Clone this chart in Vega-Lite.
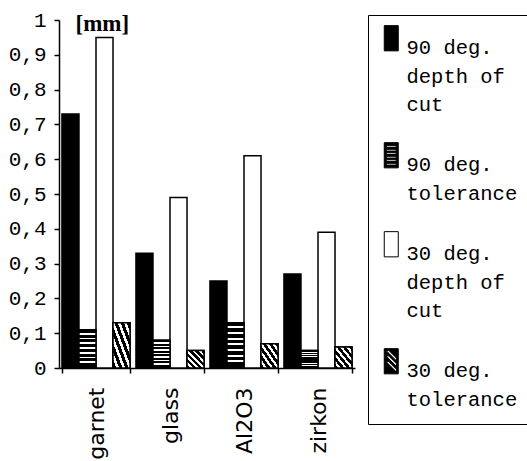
{
  "$schema": "https://vega.github.io/schema/vega-lite/v6.json",
  "autosize": "none",
  "width": 296,
  "height": 348,
  "padding": {"left": 59, "top": 20, "right": 172, "bottom": 93},
  "background": "white",
  "config": {
    "view": {"stroke": null},
    "style": {"guide-label": {"lineHeight": 28.5}}
  },
  "data": {"values": [
    {"material": "garnet", "series": "90 deg.|depth of|cut", "value": 0.73},
    {"material": "garnet", "series": "90 deg.|tolerance", "value": 0.11},
    {"material": "garnet", "series": "30 deg.|depth of|cut", "value": 0.95},
    {"material": "garnet", "series": "30 deg.|tolerance", "value": 0.13},
    {"material": "glass", "series": "90 deg.|depth of|cut", "value": 0.33},
    {"material": "glass", "series": "90 deg.|tolerance", "value": 0.08},
    {"material": "glass", "series": "30 deg.|depth of|cut", "value": 0.49},
    {"material": "glass", "series": "30 deg.|tolerance", "value": 0.05},
    {"material": "Al2O3", "series": "90 deg.|depth of|cut", "value": 0.25},
    {"material": "Al2O3", "series": "90 deg.|tolerance", "value": 0.13},
    {"material": "Al2O3", "series": "30 deg.|depth of|cut", "value": 0.61},
    {"material": "Al2O3", "series": "30 deg.|tolerance", "value": 0.07},
    {"material": "zirkon", "series": "90 deg.|depth of|cut", "value": 0.27},
    {"material": "zirkon", "series": "90 deg.|tolerance", "value": 0.05},
    {"material": "zirkon", "series": "30 deg.|depth of|cut", "value": 0.39},
    {"material": "zirkon", "series": "30 deg.|tolerance", "value": 0.06}
  ]},
  "encoding": {
    "x": {
      "field": "material", "type": "nominal",
      "sort": ["garnet", "glass", "Al2O3", "zirkon"],
      "scale": {"domain": ["garnet", "glass", "Al2O3", "zirkon"], "paddingInner": 0.08, "paddingOuter": 0.04},
      "axis": {
        "title": null, "labelAngle": -90, "labelAlign": "right", "labelBaseline": "middle",
        "labelFont": "DejaVu Sans", "labelFontSize": 22, "labelColor": "black",
        "labelPadding": 14, "tickBand": "extent", "tickSize": 5, "tickColor": "black",
        "domainColor": "black", "domainWidth": 1.5, "tickWidth": 1.5
      }
    },
    "xOffset": {
      "field": "series", "type": "nominal",
      "scale": {"domain": ["90 deg.|depth of|cut", "90 deg.|tolerance", "30 deg.|depth of|cut", "30 deg.|tolerance"], "paddingInner": 0, "paddingOuter": 0}
    },
    "y": {
      "field": "value", "type": "quantitative",
      "scale": {"domain": [0, 1], "nice": false},
      "axis": {
        "values": [0, 0.1, 0.2, 0.3, 0.4, 0.5, 0.6, 0.7, 0.8, 0.9, 1],
        "labelExpr": "replace(format(datum.value, '~g'), '.', ',')",
        "grid": false, "labelFont": "Liberation Mono", "labelFontSize": 21, "labelColor": "black",
        "labelPadding": 8, "tickSize": 5, "tickColor": "black", "tickWidth": 1.5,
        "domainColor": "black", "domainWidth": 1.5,
        "title": "[mm]", "titleAngle": 0, "titleAlign": "left", "titleBaseline": "middle",
        "titleX": 16, "titleY": 3, "titleFont": "Liberation Serif", "titleFontWeight": "bold",
        "titleFontSize": 23, "titleColor": "black"
      }
    }
  },
  "layer": [
    {
      "mark": {"type": "bar", "stroke": "black", "strokeWidth": 1.5},
      "encoding": {
        "fill": {
          "field": "series", "type": "nominal",
          "scale": {
            "domain": ["90 deg.|depth of|cut", "90 deg.|tolerance", "30 deg.|depth of|cut", "30 deg.|tolerance"],
            "range": ["black", "black", "white", "black"]
          },
          "legend": {
            "orient": "none", "legendX": 309, "legendY": -5, "title": null,
            "strokeColor": "black", "padding": 13, "rowPadding": 24,
            "symbolSize": 196, "symbolOpacity": 1,
            "symbolStrokeColor": "black", "symbolStrokeWidth": 1,
            "labelExpr": "split(datum.label, '|')",
            "labelFont": "Liberation Mono", "labelFontSize": 20.5, "labelColor": "black",
            "labelOffset": 5, "labelLimit": 300, "labelBaseline": "top",
            "encode": {"labels": {"lineHeight": {"value": 28.5}}}
          }
        }
      }
    },
    {
      "mark": {"type": "point", "filled": true, "opacity": 0},
      "encoding": {
        "shape": {
          "field": "series", "type": "nominal",
          "scale": {
            "domain": ["90 deg.|depth of|cut", "90 deg.|tolerance", "30 deg.|depth of|cut", "30 deg.|tolerance"],
            "range": [
              "M-1,-1.8H1V1.8H-1Z",
              "M-1,-1.8H1V1.8H-1Z M-0.7,-1.35V-1.1H0.7V-1.35Z M-0.7,-0.85V-0.6H0.7V-0.85Z M-0.7,-0.35V-0.1H0.7V-0.35Z M-0.7,0.15V0.4H0.7V0.15Z M-0.7,0.65V0.9H0.7V0.65Z M-0.7,1.15V1.4H0.7V1.15Z",
              "M-1,-1.8H1V1.8H-1Z",
              "M-1,-1.8H1V1.8H-1Z M-0.75,-1.55L0.75,-0.05L0.75,-0.45L-0.35,-1.55Z M-0.75,-0.75L0.75,0.75L0.75,0.35L-0.35,-0.75Z M-0.75,0.05L0.75,1.55L0.75,1.15L-0.35,0.05Z"
            ]
          },
          "legend": {
            "orient": "none", "legendX": 309, "legendY": -5, "title": null,
            "strokeColor": "black", "padding": 13, "rowPadding": 24,
            "symbolSize": 196, "symbolOpacity": 1,
            "symbolStrokeColor": "black", "symbolStrokeWidth": 1,
            "labelExpr": "split(datum.label, '|')",
            "labelFont": "Liberation Mono", "labelFontSize": 20.5, "labelColor": "black",
            "labelOffset": 5, "labelLimit": 300, "labelBaseline": "top",
            "encode": {"labels": {"lineHeight": {"value": 28.5}}}
          }
        }
      }
    },
    {
      "transform": [{"filter": "datum.series === '90 deg.|tolerance'"}],
      "mark": {"type": "bar", "stroke": "black", "strokeWidth": 1.5, "fill": {"gradient": "linear", "x1": 0, "y1": 0, "x2": 0, "y2": 1, "stops": [
            {"offset": 0, "color": "black"}, {"offset": 0.08, "color": "black"}, {"offset": 0.08, "color": "white"}, {"offset": 0.125, "color": "white"},
            {"offset": 0.125, "color": "black"}, {"offset": 0.205, "color": "black"}, {"offset": 0.205, "color": "white"}, {"offset": 0.25, "color": "white"},
            {"offset": 0.25, "color": "black"}, {"offset": 0.33, "color": "black"}, {"offset": 0.33, "color": "white"}, {"offset": 0.375, "color": "white"},
            {"offset": 0.375, "color": "black"}, {"offset": 0.455, "color": "black"}, {"offset": 0.455, "color": "white"}, {"offset": 0.5, "color": "white"},
            {"offset": 0.5, "color": "black"}, {"offset": 0.58, "color": "black"}, {"offset": 0.58, "color": "white"}, {"offset": 0.625, "color": "white"},
            {"offset": 0.625, "color": "black"}, {"offset": 0.705, "color": "black"}, {"offset": 0.705, "color": "white"}, {"offset": 0.75, "color": "white"},
            {"offset": 0.75, "color": "black"}, {"offset": 0.83, "color": "black"}, {"offset": 0.83, "color": "white"}, {"offset": 0.875, "color": "white"},
            {"offset": 0.875, "color": "black"}, {"offset": 1, "color": "black"}
          ]}}
    },
    {
      "transform": [{"filter": "datum.series === '30 deg.|tolerance'"}],
      "mark": {"type": "bar", "stroke": "black", "strokeWidth": 1.5, "fill": {"gradient": "linear", "x1": 0, "y1": 1, "x2": 1, "y2": 0, "stops": [
            {"offset": 0, "color": "black"}, {"offset": 0.1, "color": "black"}, {"offset": 0.1, "color": "white"}, {"offset": 0.18, "color": "white"},
            {"offset": 0.18, "color": "black"}, {"offset": 0.28, "color": "black"}, {"offset": 0.28, "color": "white"}, {"offset": 0.36, "color": "white"},
            {"offset": 0.36, "color": "black"}, {"offset": 0.46, "color": "black"}, {"offset": 0.46, "color": "white"}, {"offset": 0.54, "color": "white"},
            {"offset": 0.54, "color": "black"}, {"offset": 0.64, "color": "black"}, {"offset": 0.64, "color": "white"}, {"offset": 0.72, "color": "white"},
            {"offset": 0.72, "color": "black"}, {"offset": 0.82, "color": "black"}, {"offset": 0.82, "color": "white"}, {"offset": 0.9, "color": "white"},
            {"offset": 0.9, "color": "black"}, {"offset": 1, "color": "black"}
          ]}}
    }
  ]
}
